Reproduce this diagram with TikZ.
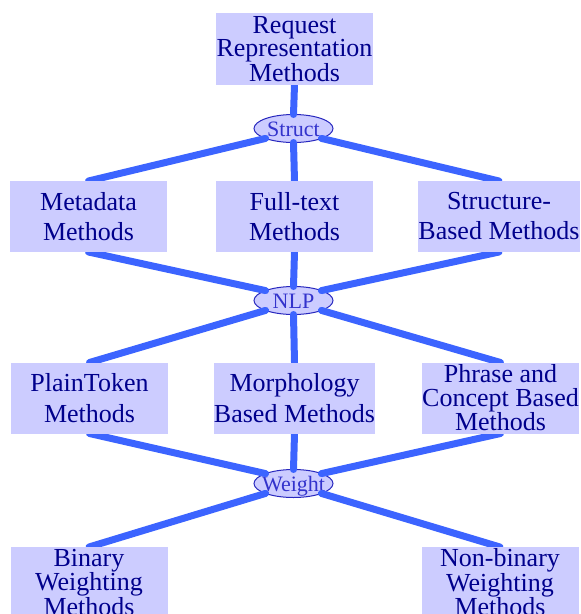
\documentclass[tikz,border=0pt]{standalone}
\usepackage{fontspec}
\setmainfont{Liberation Serif}
\usetikzlibrary{shapes.geometric}
\begin{document}
\definecolor{boxfill}{RGB}{204,204,255}
\definecolor{boxtext}{RGB}{0,0,140}
\definecolor{ovalline}{RGB}{40,40,190}
\definecolor{ovaltext}{RGB}{51,51,204}
\definecolor{linkblue}{RGB}{60,100,255}
\pgfdeclarelayer{front}
\pgfsetlayers{main,front}
\begin{tikzpicture}[x=1pt,y=-1pt,
  methodbox/.style={rectangle, fill=boxfill, text=boxtext, inner sep=0pt, outer sep=0pt,
    minimum width=157pt, minimum height=71pt, align=center},
  op/.style={ellipse, fill=boxfill, draw=ovalline, line width=1pt, text=ovaltext,
    inner xsep=-10pt, inner ysep=0pt, outer sep=0pt, minimum width=79pt, minimum height=28pt,
    text height=15pt, text depth=0pt, font=\fontsize{22}{22}\selectfont},
  link/.style={draw=linkblue, line width=7pt, line cap=round}]
\useasboundingbox (0,0) rectangle (581,614);

% method boxes sit above the connectors
\begin{pgfonlayer}{front}
\node[methodbox, font=\fontsize{26}{21}\selectfont, minimum height=72pt] (req) at (294.5,49) {Request\\Representation\\Methods};
\node[methodbox, font=\fontsize{26}{30}\selectfont] (meta) at (88.5,216.5) {Metadata\\Methods};
\node[methodbox, font=\fontsize{26}{30}\selectfont] (full) at (294.5,216.5) {Full-text\\Methods};
\node[methodbox, font=\fontsize{26}{30}\selectfont] (struc) at (499,216.5) {Structure-\\Based Methods};
\node[methodbox, font=\fontsize{26}{31}\selectfont] (plain) at (89.5,398) {PlainToken\\Methods};
\node[methodbox, font=\fontsize{26}{31}\selectfont] (morph) at (294.5,398) {Morphology\\Based Methods};
\node[methodbox, font=\fontsize{26}{24}\selectfont] (phrase) at (500.5,398) {Phrase and\\Concept Based\\Methods};
\node[methodbox, font=\fontsize{26}{24.5}\selectfont] (binary) at (89,582.5) {Binary\\Weighting\\Methods};
\node[methodbox, font=\fontsize{26}{24.5}\selectfont] (nonbin) at (500,582.5) {Non-binary\\Weighting\\Methods};
\end{pgfonlayer}

% operator ovals
\node[op] (structop) at (293.5,128.5) {Struct};
\node[op] (nlp) at (293.5,300.5) {NLP};
\node[op] (weight) at (293.5,483.5) {Weight};

% connectors
\draw[link] (req.south) -- (structop.north);
\draw[link] (structop.south west) -- (meta.north);
\draw[link] (structop.south) -- (full.north);
\draw[link] (structop.south east) -- (struc.north);
\draw[link] (meta.south) -- (nlp.north west);
\draw[link] (full.south) -- (nlp.north);
\draw[link] (struc.south) -- (nlp.north east);
\draw[link] (nlp.south west) -- (plain.north);
\draw[link] (nlp.south) -- (morph.north);
\draw[link] (nlp.south east) -- (phrase.north);
\draw[link] (plain.south) -- (weight.north west);
\draw[link] (morph.south) -- (weight.north);
\draw[link] (phrase.south) -- (weight.north east);
\draw[link] (weight.south west) -- (binary.north);
\draw[link] (weight.south east) -- (nonbin.north);
\end{tikzpicture}
\end{document}
